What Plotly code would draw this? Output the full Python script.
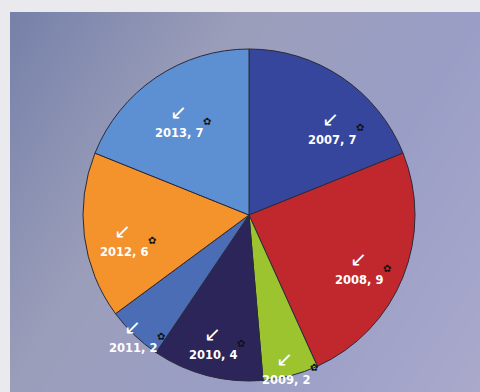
import math
import plotly.graph_objects as go

# ---- data ----
years = ["2007", "2008", "2009", "2010", "2011", "2012", "2013"]
counts = [7, 9, 2, 4, 2, 6, 7]

# ---- styling ----
slice_colors = ["#36469c", "#c0282e", "#9cc42e", "#2b2559", "#4b6db6", "#f4922c", "#5d90d2"]
label_angle_offset = [13.8, 8.7, 2.0, -0.2, -2.7, -9.2, -6.4]   # degrees relative to slice middle
label_radius_frac = [0.674, 0.77, 1.018, 0.871, 1.063, 0.786, 0.649]

W, H = 480, 392
ML, MT = 10, 12
PW, PH = W - ML, H - MT
CX, CY, R = 249, 215, 166


def to_paper(px, py):
    return (px - ML) / PW, (H - py) / PH


fig = go.Figure()

# gradient background (corner colours)
bg_colors = ["#7681a9", "#9b9eba", "#9a9ec6", "#aaa9cc"]
fig.add_trace(go.Heatmap(
    z=[[1, 3], [0, 2]], x=[0, 1], y=[0, 1], zsmooth="best",
    colorscale=[[0, bg_colors[0]], [1 / 3, bg_colors[1]], [2 / 3, bg_colors[2]], [1, bg_colors[3]]],
    showscale=False, hoverinfo="skip",
))

x0, y1 = to_paper(CX - R, CY - R)
x1, y0 = to_paper(CX + R, CY + R)
fig.add_trace(go.Pie(
    labels=years, values=counts, sort=False, direction="clockwise", rotation=0,
    marker=dict(colors=slice_colors, line=dict(color="#2a2a3a", width=1)),
    textinfo="none", hoverinfo="label+value", showlegend=False,
    domain=dict(x=[x0, x1], y=[y0, y1]),
))

total = sum(counts)
cum = 0
for i, (yr, v) in enumerate(zip(years, counts)):
    mid = (cum + v / 2) / total * 360
    cum += v
    ang = math.radians(mid + label_angle_offset[i])
    r = R * label_radius_frac[i]
    tx = CX + r * math.sin(ang)
    ty = CY - r * math.cos(ang)
    ax_, ay_ = to_paper(tx, ty)
    fig.add_annotation(x=ax_, y=ay_, xref="paper", yref="paper", text=f"{yr}, {v}",
                       showarrow=False, xanchor="center", yanchor="middle",
                       font=dict(family="DejaVu Sans", size=11.5, color="white", weight="bold"))
    arx, ary = to_paper(tx - 1, ty - 21)
    fig.add_annotation(x=arx, y=ary, xref="paper", yref="paper", text="↙",
                       showarrow=False, xanchor="center", yanchor="middle",
                       font=dict(family="DejaVu Sans", size=20, color="white"))
    sx, sy = to_paper(tx + 28, ty - 12)
    fig.add_annotation(x=sx, y=sy, xref="paper", yref="paper", text="✿",
                       showarrow=False, xanchor="center", yanchor="middle",
                       font=dict(family="DejaVu Sans", size=10, color="#111111"))

fig.update_layout(
    width=W, height=H,
    margin=dict(l=ML, r=0, t=MT, b=0),
    paper_bgcolor="#e9e9ee", plot_bgcolor="#9498b8",
    xaxis=dict(visible=False, range=[0, 1], fixedrange=True),
    yaxis=dict(visible=False, range=[0, 1], fixedrange=True),
)

fig.write_html("out.html")
